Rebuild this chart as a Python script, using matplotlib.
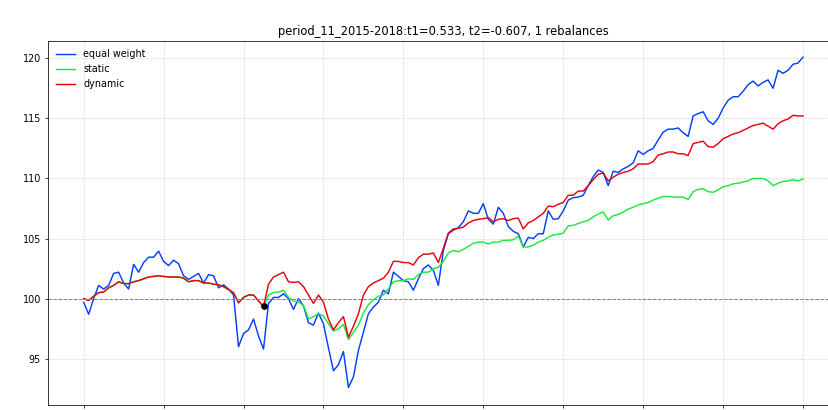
import matplotlib
matplotlib.use('Agg')
import matplotlib.pyplot as plt
import numpy as np

# values, one sample every ~5 px (index 0..144)
equal_weight = [
    99.7, 98.7, 100.0, 101.1, 100.8, 101.1, 102.1, 102.2, 101.3, 100.8,
    102.85, 102.2, 103.0, 103.45, 103.45, 103.95, 103.1, 102.75, 103.2, 102.9,
    101.9, 101.6, 101.85, 102.1, 101.3, 102.0, 101.9, 100.9, 101.15, 100.8,
    100.3, 96.0, 97.1, 97.4, 98.3, 96.9, 95.8, 99.6, 100.1, 100.1,
    100.4, 100.0, 99.1, 100.0, 99.4, 98.0, 97.8, 98.8, 97.9, 95.9,
    94.0, 94.5, 95.6, 92.6, 93.5, 95.7, 97.2, 98.75, 99.3, 99.7,
    100.7, 100.4, 102.2, 101.85, 101.5, 101.4, 100.7, 101.65, 102.5, 102.8,
    102.35, 101.1, 104.0, 105.4, 105.7, 105.9, 106.4, 107.3, 107.1, 107.1,
    107.9, 106.6, 106.2, 107.6, 107.1, 106.0, 105.6, 105.4, 104.3, 105.1,
    105.0, 105.4, 105.4, 107.3, 106.6, 106.65, 107.3, 108.2, 108.4, 108.45,
    108.6, 109.4, 110.15, 110.7, 110.5, 109.4, 110.6, 110.5, 110.8, 111.0,
    111.3, 112.3, 112.0, 112.3, 112.5, 113.2, 113.85, 114.1, 114.1, 114.2,
    113.8, 113.5, 115.2, 115.4, 115.55, 114.8, 114.5, 115.0, 115.85, 116.5,
    116.8, 116.8, 117.25, 117.8, 118.1, 117.7, 118.0, 118.2, 117.5, 119.0,
    118.75, 119.0, 119.5, 119.6, 120.1,
]

static = [
    100.0, 99.85, 100.2, 100.5, 100.55, 100.9, 101.1, 101.4, 101.25, 101.25,
    101.4, 101.5, 101.65, 101.8, 101.85, 101.9, 101.85, 101.8, 101.8, 101.8,
    101.7, 101.4, 101.5, 101.5, 101.3, 101.3, 101.2, 101.15, 101.0, 100.75,
    100.5, 99.65, 100.1, 100.3, 100.3, 99.8, 99.35, 100.3, 100.5, 100.55,
    100.7, 100.1, 99.8, 99.7, 99.45, 98.3, 98.5, 98.75, 98.55, 97.9,
    97.3, 97.5, 97.85, 96.6, 97.2, 97.8, 98.8, 99.5, 99.9, 100.2,
    100.3, 100.8, 101.4, 101.5, 101.5, 101.65, 101.6, 102.0, 102.2, 102.2,
    102.5, 102.6, 103.1, 103.8, 104.0, 103.9, 104.1, 104.35, 104.6, 104.7,
    104.7, 104.55, 104.7, 104.7, 104.85, 104.85, 104.9, 105.2, 104.3, 104.3,
    104.45, 104.7, 104.85, 105.1, 105.3, 105.35, 105.45, 106.05, 106.1, 106.25,
    106.4, 106.5, 106.8, 107.05, 107.2, 106.55, 106.9, 107.0, 107.2, 107.45,
    107.6, 107.8, 107.9, 108.0, 108.2, 108.35, 108.5, 108.5, 108.45, 108.45,
    108.45, 108.25, 108.9, 109.1, 109.15, 108.9, 108.85, 109.05, 109.3, 109.4,
    109.55, 109.6, 109.7, 109.8, 110.0, 110.0, 110.0, 109.8, 109.4, 109.6,
    109.75, 109.8, 109.9, 109.8, 109.95,
]

dynamic = [
    100.0, 99.85, 100.2, 100.5, 100.55, 100.9, 101.1, 101.4, 101.25, 101.25,
    101.4, 101.5, 101.65, 101.8, 101.85, 101.9, 101.85, 101.8, 101.8, 101.8,
    101.7, 101.4, 101.5, 101.5, 101.3, 101.3, 101.2, 101.15, 101.0, 100.75,
    100.5, 99.65, 100.1, 100.3, 100.3, 99.8, 99.35, 101.2, 101.8, 102.0,
    102.2, 101.4, 101.35, 101.4, 101.0, 100.3, 99.6, 100.3, 99.7, 98.3,
    97.4, 98.0, 98.5, 96.8, 97.7, 98.75, 100.3, 101.0, 101.3, 101.5,
    101.7, 102.2, 103.1, 103.1, 103.0, 103.0, 102.8, 103.4, 103.7, 103.7,
    103.8, 103.0, 104.2, 105.45, 105.8, 105.85, 105.95, 106.3, 106.5, 106.6,
    106.65, 106.75, 106.4, 106.6, 106.65, 106.5, 106.65, 106.7, 105.8, 106.3,
    106.5, 106.8, 107.1, 107.7, 107.65, 107.85, 108.0, 108.6, 108.6, 108.95,
    108.95, 109.4, 109.9, 110.35, 110.45, 109.8, 110.1, 110.35, 110.5, 110.6,
    110.8, 111.2, 111.2, 111.2, 111.4, 111.95, 112.05, 112.2, 112.2, 112.05,
    112.05, 111.9, 112.9, 113.0, 113.1, 112.65, 112.6, 112.9, 113.3, 113.5,
    113.7, 113.8, 114.0, 114.2, 114.4, 114.5, 114.6, 114.35, 114.1, 114.55,
    114.8, 114.95, 115.25, 115.2, 115.2,
]

rebalance_idx = [36]
title = 'period_11_2015-2018:t1=0.533, t2=-0.607, 1 rebalances'

x = np.arange(len(equal_weight))

# original looks like a 12in wide figure rendered at ~69 dpi
fig = plt.figure(figsize=(12, 410 / 69), dpi=69)
ax = fig.add_axes([0.0576, 0.0122, 0.9557, 0.8885])

ax.plot(x, equal_weight, color='#023eff', lw=1.5, label='equal weight')
ax.plot(x, static, color='#1ae83a', lw=1.5, label='static')
ax.plot(x, dynamic, color='#e8000b', lw=1.5, label='dynamic')
ax.axhline(100, color='gray', ls='--', lw=1)
ax.plot(x[rebalance_idx], np.array(dynamic)[rebalance_idx], 'ko', markersize=6)

ax.set_xlim(-7.2, 151.2)
ax.set_ylim(91.15, 121.46)
# date labels fall below the cropped edge in the reference, keep only the ticks
ax.set_xticks(np.arange(0, 145, 16))
ax.set_xticklabels([])
ax.set_yticks([95, 100, 105, 110, 115, 120])
ax.grid(True, color='#dddddd', ls='--', lw=0.8)
ax.set_axisbelow(True)

ax.set_title(title, fontsize=12)
ax.legend(loc='upper left', frameon=False, fontsize=10)

fig.savefig('out.png', dpi=69)
